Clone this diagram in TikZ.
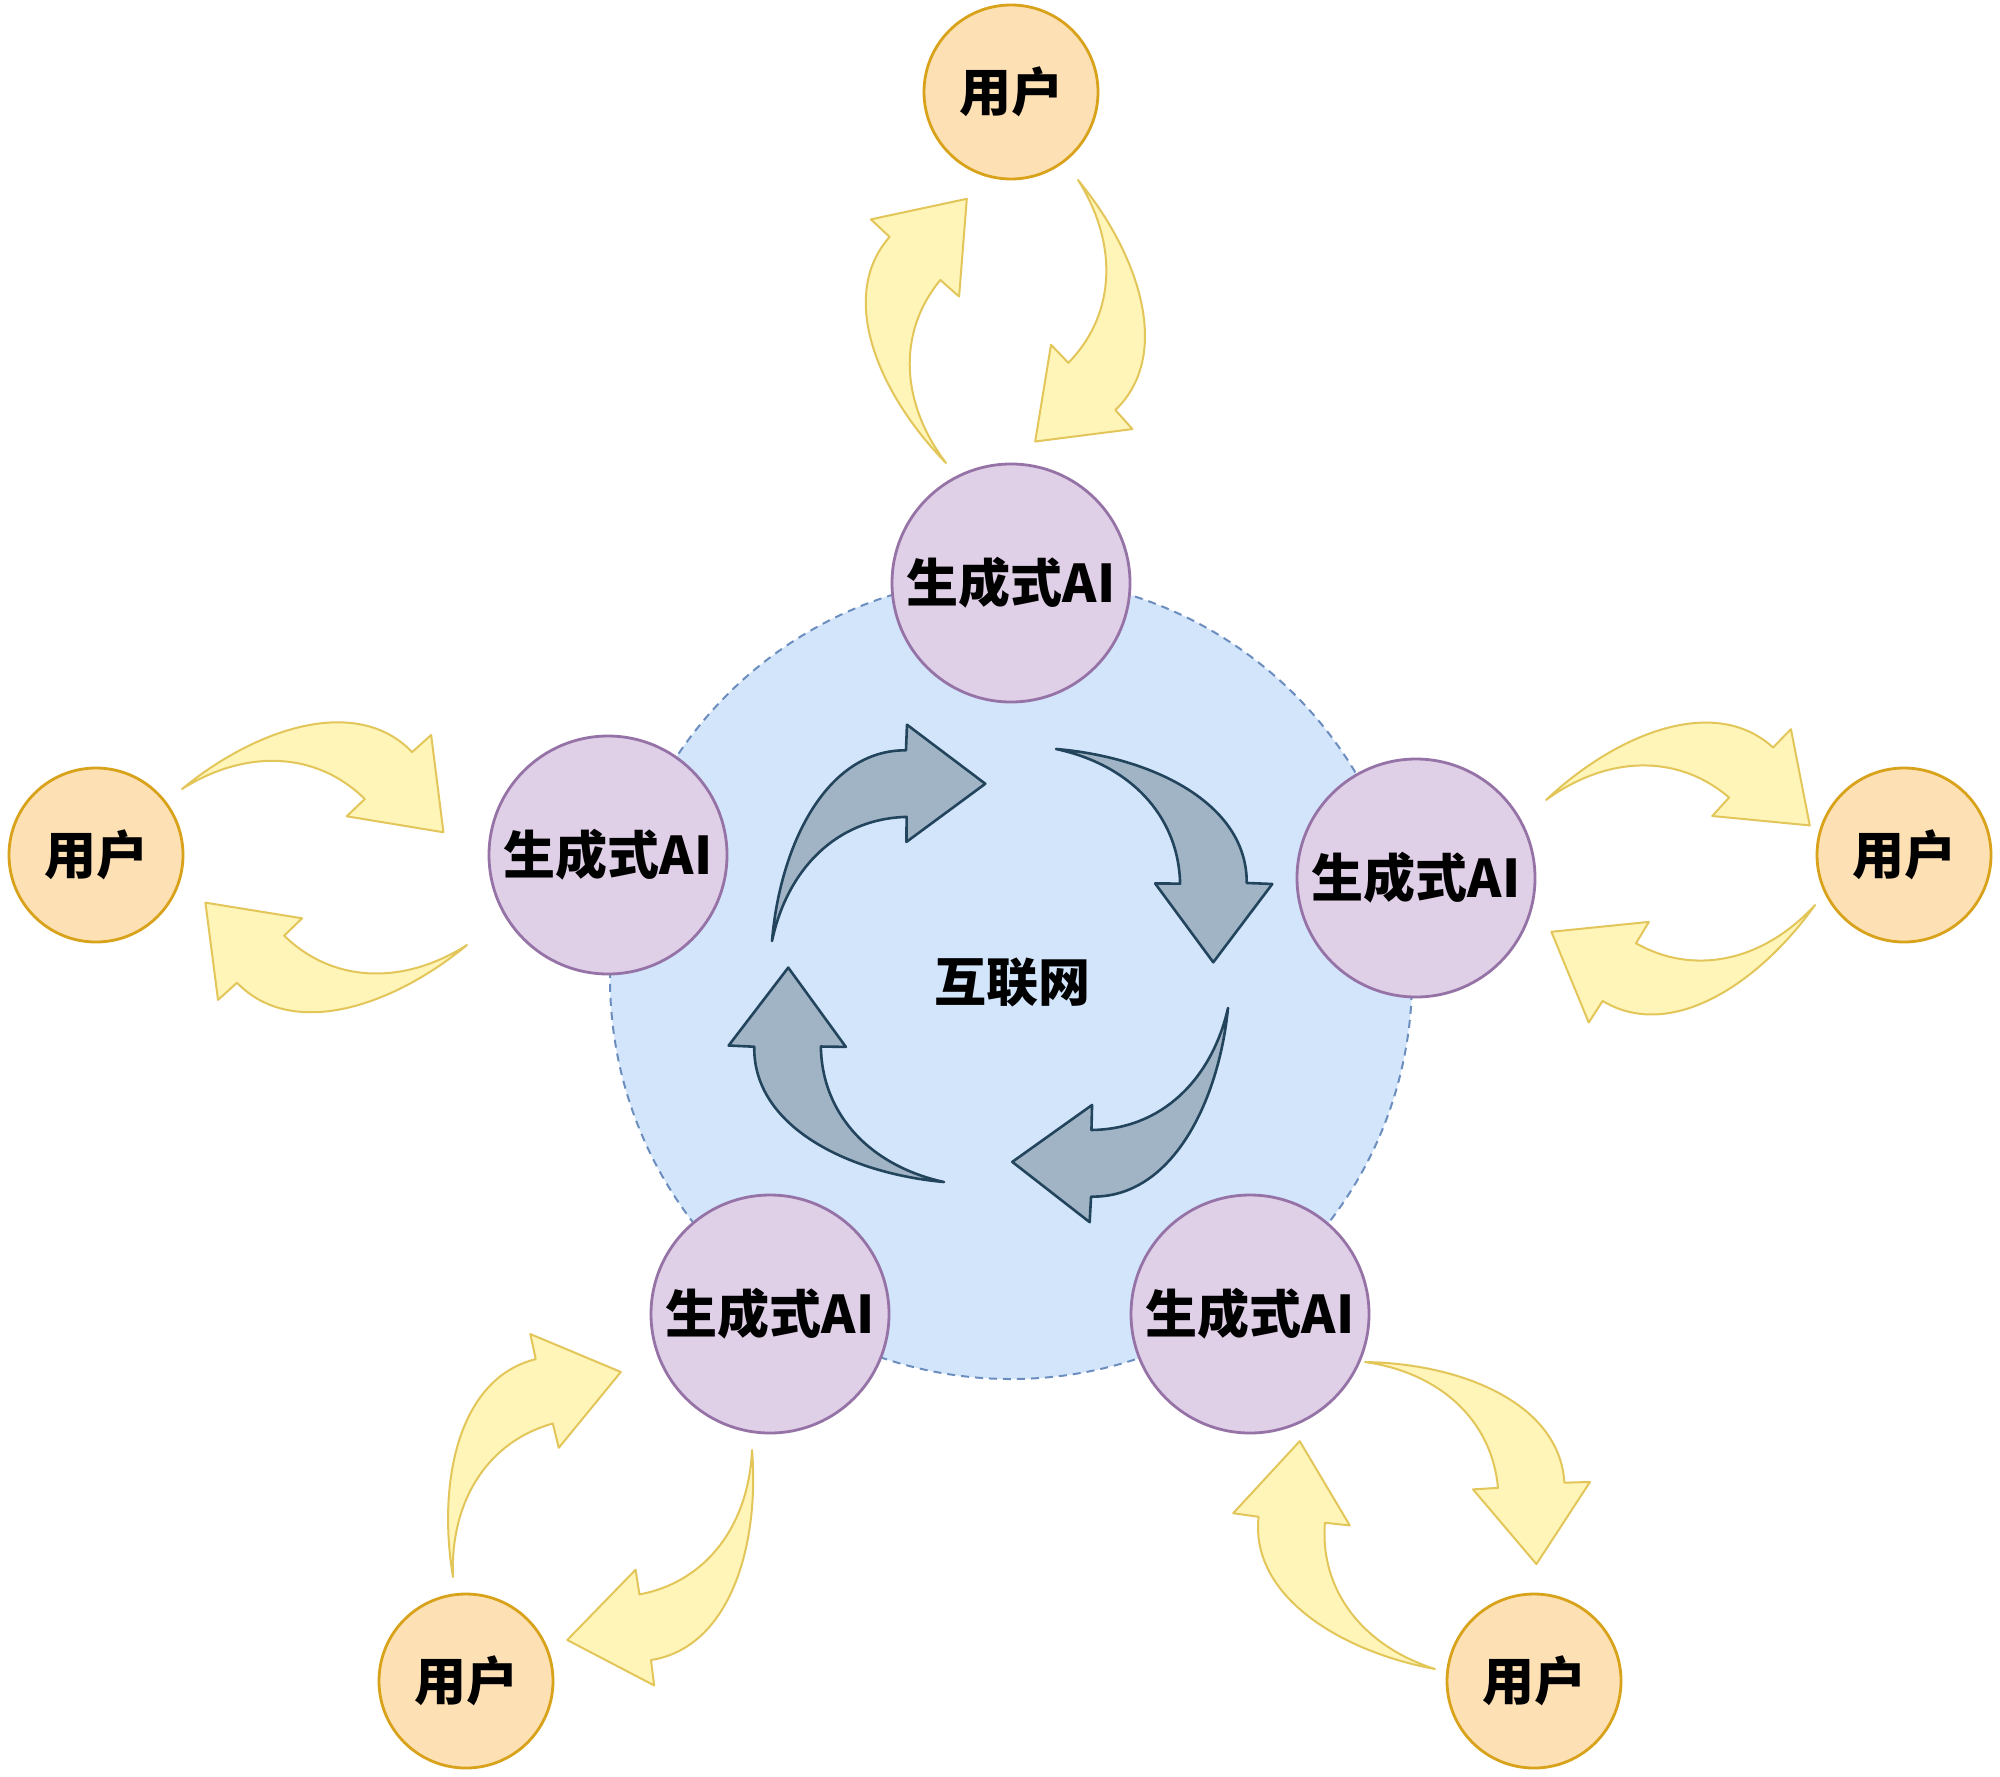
\documentclass[tikz,border=0pt]{standalone}
\usepackage{fontspec}
\newfontfamily\cjk{Noto Sans CJK SC}
\definecolor{userfill}{HTML}{FDE0B4}
\definecolor{userline}{HTML}{D9A21B}
\definecolor{aifill}{HTML}{DFCFE7}
\definecolor{ailine}{HTML}{9673A6}
\definecolor{netfill}{HTML}{D2E5FB}
\definecolor{netline}{HTML}{6C8EBF}
\definecolor{grayfill}{HTML}{A0B4C6}
\definecolor{grayline}{HTML}{23445D}
\definecolor{yelfill}{HTML}{FFF5B9}
\definecolor{yelline}{HTML}{E3C65A}
\tikzset{
  txt/.style={font=\cjk\bfseries\fontsize{26}{30}\selectfont, text=black},
  userc/.style={circle, minimum size=87pt, inner sep=0pt, fill=userfill, draw=userline, line width=1.4pt, txt},
  aic/.style={circle, minimum size=119pt, inner sep=0pt, fill=aifill, draw=ailine, line width=1.4pt, txt},
  yelarrow/.style={fill=yelfill, draw=yelline, line width=1pt, line join=round},
  grayarrow/.style={fill=grayfill, draw=grayline, line width=1.3pt, line join=round},
}
\newcommand\jumparrow[4]{%
  \begin{scope}[shift={#2}, rotate=#3, scale=#4]
    \draw[#1] (0,0) .. controls (63,-72) and (157,-122) .. (221,-74)
      -- (237,-94) -- (265,0) -- (167,0) -- (182,-20)
      .. controls (125,-60) and (55,-49) .. (0,0) -- cycle;
  \end{scope}}
\begin{document}
\begin{tikzpicture}[x=0.5pt, y=-0.5pt]
\useasboundingbox (0,0) rectangle (2000,1776);
\fill[white] (0,0) rectangle (2000,1776);
% internet circle
\coordinate (netc) at (1011,978);
\fill[netfill] (netc) circle[radius=401];
\draw[netline, line width=1pt, dash pattern=on 4pt off 3pt] (netc) circle[radius=401];
\node[txt] (net) at (1012,982) {互联网};
% gray cycle arrows
\jumparrow{grayarrow}{(772,941)}{36.4}{1}
\jumparrow{grayarrow}{(1056,749)}{-53.6}{1}
\jumparrow{grayarrow}{(1228,1008)}{-144.5}{1}
\jumparrow{grayarrow}{(944,1182)}{126}{1}
% yellow arrows
\jumparrow{yelarrow}{(946,463)}{85.5}{1}
\jumparrow{yelarrow}{(1078,180)}{-99.3}{1}
\jumparrow{yelarrow}{(182,789)}{-9.4}{1}
\jumparrow{yelarrow}{(467,945)}{170.8}{1}
\jumparrow{yelarrow}{(1546,800)}{-5.5}{1}
\jumparrow{yelarrow}{(1815,905)}{-174.2}{1}
\jumparrow{yelarrow}{(453,1577)}{50.7}{1}
\jumparrow{yelarrow}{(752,1450)}{-134.2}{1}
\jumparrow{yelarrow}{(1365,1362)}{-49.7}{1}
\jumparrow{yelarrow}{(1435,1669)}{120.7}{1}
% AI nodes
\node[aic] (a1) at (1011,583) {生成式AI};
\node[aic] (a2) at (608,855) {生成式AI};
\node[aic] (a3) at (1416,878) {生成式AI};
\node[aic] (a4) at (770,1314) {生成式AI};
\node[aic] (a5) at (1250,1314) {生成式AI};
% user nodes
\node[userc] (u1) at (1011,92) {用户};
\node[userc] (u2) at (96,855) {用户};
\node[userc] (u3) at (1904,855) {用户};
\node[userc] (u4) at (466,1681) {用户};
\node[userc] (u5) at (1534,1681) {用户};
\end{tikzpicture}
\end{document}
